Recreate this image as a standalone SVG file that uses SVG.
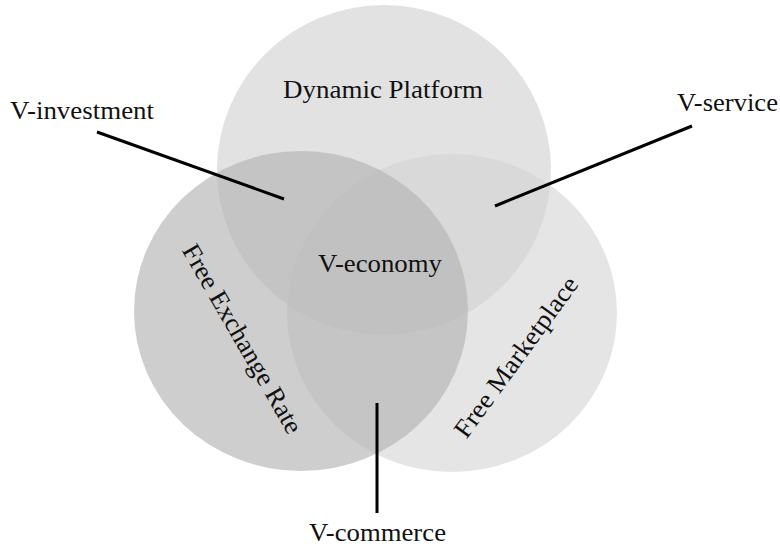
<svg xmlns="http://www.w3.org/2000/svg" width="780" height="548" viewBox="0 0 780 548">
<style>
text{font-family:"Liberation Serif","Times New Roman",serif;font-size:26px;fill:#111}
.c{stroke:#000;stroke-width:3;fill:none;stroke-linecap:butt}
</style>
<rect width="780" height="548" fill="#fff"/>
<g id="dynamic-platform">
<ellipse cx="384" cy="170" rx="167" ry="165" fill="#e2e2e2"/>
</g>
<g id="free-marketplace">
<ellipse cx="452" cy="313" rx="165" ry="159" fill="#d3d3d3" fill-opacity="0.586"/>
</g>
<g id="free-exchange-rate">
<ellipse cx="301" cy="311" rx="167" ry="160" fill="#b5b5b5" fill-opacity="0.66"/>
</g>
<g id="labels">
<text x="383" y="98" text-anchor="middle" textLength="200" lengthAdjust="spacingAndGlyphs">Dynamic Platform</text>
<text x="380" y="272" text-anchor="middle" textLength="124" lengthAdjust="spacingAndGlyphs">V-economy</text>
<text transform="translate(235,343) rotate(60)" text-anchor="middle" textLength="214" lengthAdjust="spacingAndGlyphs">Free Exchange Rate</text>
<text transform="translate(523,362) rotate(-54)" text-anchor="middle" textLength="192" lengthAdjust="spacingAndGlyphs">Free Marketplace</text>
</g>
<g id="connectors">
<line class="c" x1="97" y1="132" x2="284" y2="199"/>
<line class="c" x1="692" y1="126" x2="495" y2="206"/>
<line class="c" x1="377" y1="403" x2="377" y2="513"/>
</g>
<g id="v-investment"><text x="10" y="119" textLength="144" lengthAdjust="spacingAndGlyphs">V-investment</text></g>
<g id="v-service"><text x="677" y="111" textLength="101" lengthAdjust="spacingAndGlyphs">V-service</text></g>
<g id="v-commerce"><text x="309" y="541" textLength="137" lengthAdjust="spacingAndGlyphs">V-commerce</text></g>
</svg>
